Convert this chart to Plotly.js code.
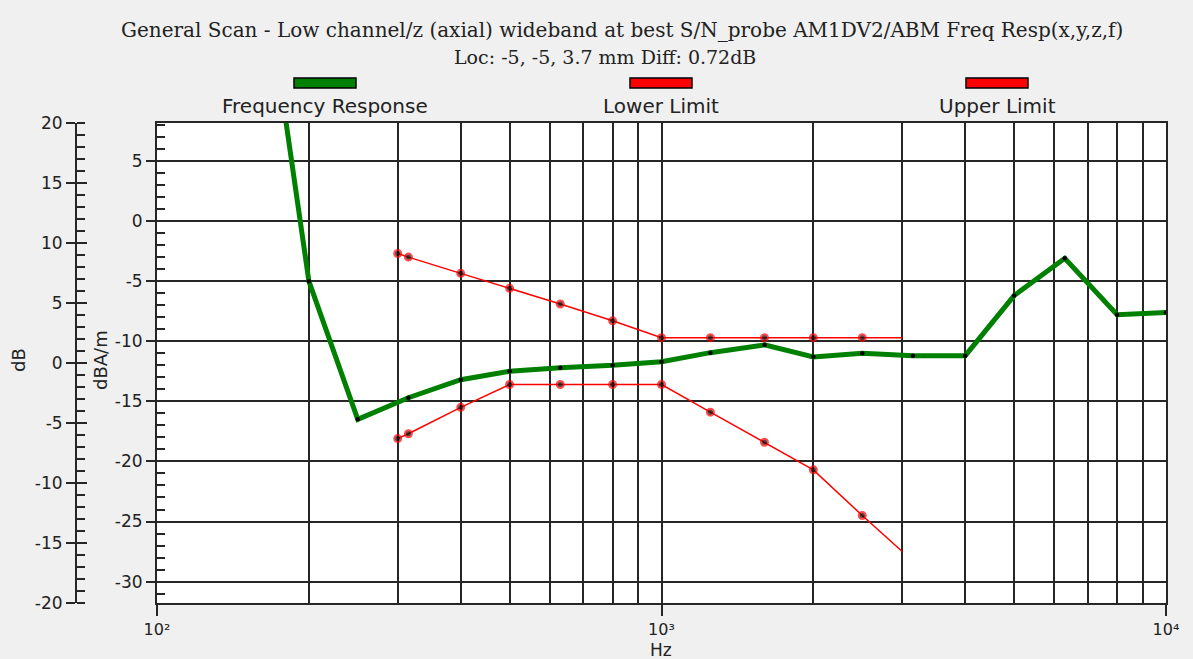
<!DOCTYPE html>
<html>
<head>
<meta charset="utf-8">
<script src="https://cdn.plot.ly/plotly-3.0.1.min.js"></script>
<style>
  html, body { margin: 0; padding: 0; background: #f0f0f0; }
  #chart { width: 1193px; height: 659px; }
</style>
</head>
<body>
<div id="chart"></div>
<script>
// ---- Data ----
const titleLine1 = "General Scan - Low channel/z (axial) wideband at best S/N_probe AM1DV2/ABM Freq Resp(x,y,z,f)";
const titleLine2 = "Loc: -5, -5, 3.7 mm Diff: 0.72dB";
const seriesNames = ["Frequency Response", "Lower Limit", "Upper Limit"];

const respFreq = [160, 200, 250, 315, 400, 500, 630, 800, 1000, 1250, 1600, 2000, 2500, 3150, 4000, 5000, 6300, 8000, 10000];
const respVal  = [23.3, -5.0, -16.5, -14.7, -13.2, -12.5, -12.2, -12.0, -11.7, -10.95, -10.3, -11.3, -11.0, -11.2, -11.2, -6.2, -3.1, -7.8, -7.6];

const limFreq  = [300, 315, 400, 500, 630, 800, 1000, 1250, 1600, 2000, 2500, 3000];
const lowerVal = [-18.1, -17.7, -15.5, -13.6, -13.6, -13.6, -13.6, -15.9, -18.4, -20.7, -24.5, -27.5];
const upperVal = [-2.7, -3.0, -4.35, -5.6, -6.9, -8.3, -9.7, -9.7, -9.7, -9.7, -9.7, -9.7];

const xTickVals  = [100, 1000, 10000];
const xTickText  = ["10\u00B2", "10\u00B3", "10\u2074"];
const xMinorVals = [200, 300, 400, 500, 600, 700, 800, 900, 2000, 3000, 4000, 5000, 6000, 7000, 8000, 9000];

const yTickVals  = [-30, -25, -20, -15, -10, -5, 0, 5];          // dBA/m (inner axis)
const yTickText  = ["-30", "-25", "-20", "-15", "-10", "-5", "0", "5"];
const y2TickVals = [-20, -15, -10, -5, 0, 5, 10, 15, 20];        // dB (outer axis)
const y2TickText = ["-20", "-15", "-10", "-5", "0", "5", "10", "15", "20"];

// ---- Layout helpers (pixel -> paper) ----
const ML = 10, MR = 27, MT = 123, MB = 56, W = 1193, H = 659;
const PW = W - ML - MR, PH = H - MT - MB;
const PX = p => (p - ML) / PW;
const PY = q => (H - MB - q) / PH;

const GREEN = "#008000", RED = "#ff0000", GRID = "#262626", TXT = "#222222";
const sans = "DejaVu Sans";

const markerSizesLim = limFreq.map((f, i) => i === limFreq.length - 1 ? 0 : 7);

const traces = [
  {
    x: respFreq, y: respVal, name: seriesNames[0], type: "scatter", mode: "lines+markers",
    line: { color: GREEN, width: 5 },
    marker: { color: "#000", size: 4.5 }
  },
  {
    x: limFreq, y: lowerVal, name: seriesNames[1], type: "scatter", mode: "lines+markers",
    line: { color: RED, width: 1.5 },
    marker: { color: "#000", size: markerSizesLim, line: { color: RED, width: 2 } }
  },
  {
    x: limFreq, y: upperVal, name: seriesNames[2], type: "scatter", mode: "lines+markers",
    line: { color: RED, width: 1.5 },
    marker: { color: "#000", size: markerSizesLim, line: { color: RED, width: 2 } }
  },
  // empty traces so that the extra (dB) axes get drawn
  { x: [], y: [], yaxis: "y2", type: "scatter", mode: "lines", showlegend: false, hoverinfo: "skip" },
  { x: [], y: [], yaxis: "y3", type: "scatter", mode: "lines", showlegend: false, hoverinfo: "skip" }
];

const legendX = [325, 661, 997];
const legendColors = [GREEN, RED, RED];
const shapes = legendX.map((cx, i) => ({
  type: "rect", xref: "paper", yref: "paper",
  x0: PX(cx - 31), x1: PX(cx + 31), y0: PY(88), y1: PY(78),
  fillcolor: legendColors[i], line: { color: "#000", width: 1.5 }
}));

const annotations = [
  { text: titleLine1, x: PX(622), y: PY(30), font: { family: "DejaVu Serif", size: 20, color: TXT } },
  { text: titleLine2, x: PX(605), y: PY(57), font: { family: "DejaVu Serif", size: 19, color: TXT } },
  { text: "dB", x: PX(18), y: PY(360), textangle: -90, font: { family: sans, size: 18, color: TXT } },
  { text: "dBA/m", x: PX(100), y: PY(360), textangle: -90, font: { family: sans, size: 18, color: TXT } },
  { text: "Hz", x: PX(661), y: PY(649.5), font: { family: sans, size: 17, color: TXT } }
].concat(seriesNames.map((n, i) => ({
  text: n, x: PX(legendX[i]), y: PY(106), font: { family: sans, size: 20, color: TXT }
}))).map(a => Object.assign({ xref: "paper", yref: "paper", showarrow: false, xanchor: "center", yanchor: "middle" }, a));

const layout = {
  width: W, height: H,
  margin: { l: ML, r: MR, t: MT, b: MB, pad: 0 },
  paper_bgcolor: "#f0f0f0", plot_bgcolor: "#ffffff",
  showlegend: false,
  font: { family: sans, color: TXT },
  xaxis: {
    type: "log", range: [2, 4], domain: [PX(157), 1],
    tickvals: xTickVals, ticktext: xTickText,
    ticks: "outside", ticklen: 11, tickwidth: 2, tickcolor: GRID,
    tickfont: { family: sans, size: 16, color: TXT },
    showgrid: true, gridcolor: GRID, gridwidth: 2,
    minor: { tickvals: xMinorVals, showgrid: true, gridcolor: GRID, gridwidth: 2, ticks: "" },
    showline: true, linecolor: GRID, linewidth: 2, mirror: true,
    zeroline: false, fixedrange: true
  },
  yaxis: {
    range: [-31.78, 8.16], tickvals: yTickVals, ticktext: yTickText,
    ticks: "outside", ticklen: 9, tickwidth: 2, tickcolor: GRID,
    tickfont: { family: sans, size: 17, color: TXT },
    minor: { dtick: 1, tick0: 0, ticks: "inside", ticklen: 8, tickwidth: 2, tickcolor: GRID, showgrid: false },
    showgrid: true, gridcolor: GRID, gridwidth: 2,
    showline: true, linecolor: GRID, linewidth: 2, mirror: true,
    zeroline: false, fixedrange: true
  },
  yaxis2: {
    overlaying: "y", anchor: "free", side: "left", position: PX(76),
    range: [-20, 20], tickvals: y2TickVals, ticktext: y2TickText,
    ticks: "outside", ticklen: 9, tickwidth: 2, tickcolor: GRID,
    tickfont: { family: sans, size: 17, color: TXT },
    minor: { dtick: 1, tick0: 0, ticks: "inside", ticklen: 8, tickwidth: 2, tickcolor: GRID, showgrid: false },
    showgrid: false, showline: true, linecolor: GRID, linewidth: 2,
    zeroline: false, fixedrange: true
  },
  yaxis3: {
    overlaying: "y", anchor: "free", side: "left", position: PX(76),
    range: [-20, 20], tickvals: y2TickVals,
    ticks: "inside", ticklen: 10, tickwidth: 2, tickcolor: GRID,
    showticklabels: false, showgrid: false, showline: false, zeroline: false, fixedrange: true
  },
  shapes: shapes,
  annotations: annotations
};

Plotly.newPlot("chart", traces, layout, { staticPlot: true, displayModeBar: false });
</script>
</body>
</html>
